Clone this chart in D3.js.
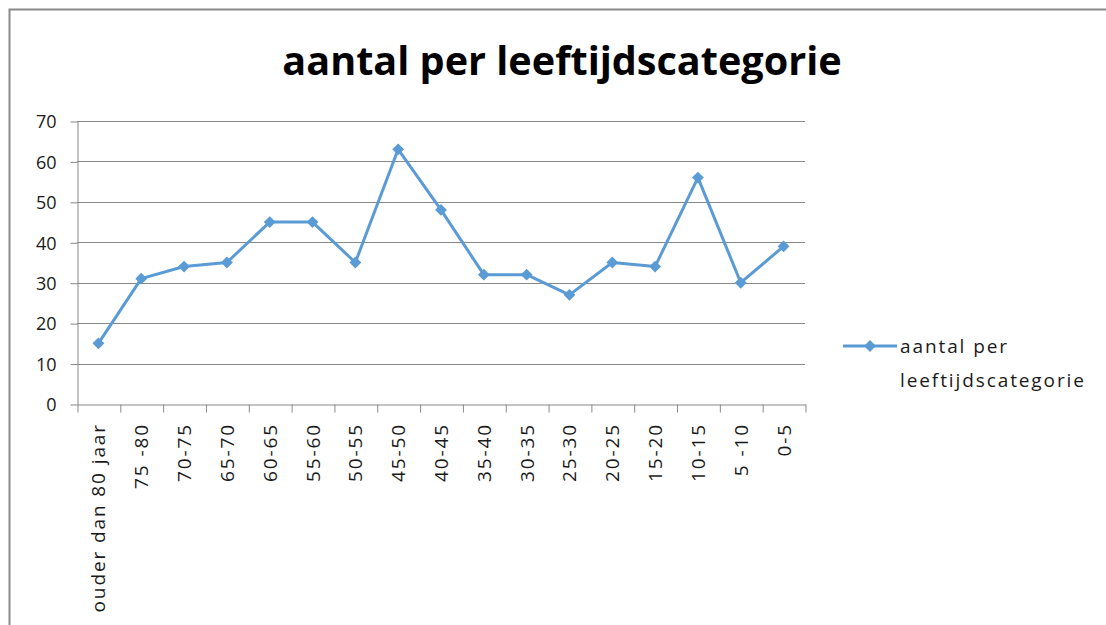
<!DOCTYPE html>
<html>
<head>
<meta charset="utf-8">
<script src="https://cdn.jsdelivr.net/npm/d3@7"></script>
<style>
  body { margin: 0; background: #fff; }
  text { font-family: "Open Sans", "Noto Sans", sans-serif; fill: #1a1a1a; }
</style>
</head>
<body>
<div id="chart"></div>
<script>
// data
var categories = ["ouder dan 80 jaar", "75 -80", "70-75", "65-70", "60-65", "55-60", "50-55",
  "45-50", "40-45", "35-40", "30-35", "25-30", "20-25", "15-20", "10-15", "5 -10", "0-5"];
var counts = [15, 31, 34, 35, 45, 45, 35, 63, 48, 32, 32, 27, 35, 34, 56, 30, 39];
var yTicks = [0, 10, 20, 30, 40, 50, 60, 70];
var seriesName = "aantal per leeftijdscategorie";
var legendLines = ["aantal per", "leeftijdscategorie"];

var W = 1106, H = 625;
var plot = { left: 77, right: 805, top: 121, bottom: 404 };
var lineColor = "#5b9bd5";
var gridColor = "#898989";

var svg = d3.select("#chart").append("svg")
    .attr("width", W)
    .attr("height", H);

// chart frame (cut off at right and bottom in the original)
svg.append("rect")
    .attr("x", 9.5).attr("y", 9.5)
    .attr("width", W + 20).attr("height", H + 20)
    .attr("fill", "#fff")
    .attr("stroke", "#8a8a8a")
    .attr("stroke-width", 2);

// title, fitted to its width in the original
var title = svg.append("text")
    .attr("x", 562).attr("y", 75)
    .attr("text-anchor", "middle")
    .style("font-weight", "bold")
    .style("font-size", "34px")
    .style("fill", "#000")
    .text(seriesName);
var tw = title.node().getComputedTextLength();
title.style("font-size", (34 * 560 / tw).toFixed(1) + "px");

var x = d3.scaleBand().domain(categories).range([plot.left, plot.right]);
var xEdge = d3.scaleLinear().domain([0, categories.length]).range([plot.left, plot.right]);
var y = d3.scaleLinear().domain([0, 70]).range([plot.bottom, plot.top]);

// gridlines
svg.append("g")
    .selectAll("line")
    .data(yTicks.filter(d => d > 0))
    .enter().append("line")
    .attr("x1", plot.left).attr("x2", plot.right)
    .attr("y1", d => Math.round(y(d)) + 0.5)
    .attr("y2", d => Math.round(y(d)) + 0.5)
    .attr("stroke", gridColor)
    .attr("stroke-width", 1);

// y axis
var yAxis = svg.append("g")
    .attr("transform", "translate(" + (plot.left + 0.5) + ",0.5)")
    .call(d3.axisLeft(y).tickValues(yTicks).tickSize(7).tickSizeOuter(0).tickPadding(14));
yAxis.select(".domain").attr("stroke", gridColor);
yAxis.selectAll(".tick line").attr("stroke", gridColor);
yAxis.selectAll(".tick text")
    .style("font-size", "18px")
    .attr("font-family", null)
    .attr("fill", null)
    .attr("dy", "0.35em");

// x axis: ticks on the category boundaries
var xAxis = svg.append("g")
    .attr("transform", "translate(0.5," + (Math.round(plot.bottom) + 0.5) + ")")
    .call(d3.axisBottom(xEdge).tickValues(d3.range(categories.length + 1))
        .tickFormat("").tickSize(8).tickSizeOuter(0));
xAxis.select(".domain").attr("stroke", gridColor);
xAxis.selectAll(".tick line").attr("stroke", gridColor);

// rotated category labels
svg.append("g")
    .selectAll("text")
    .data(categories)
    .enter().append("text")
    .attr("transform", d => "translate(" + (x(d) + x.bandwidth() / 2 + 7) + ",423) rotate(-90)")
    .attr("text-anchor", "end")
    .style("font-size", "19px")
    .style("letter-spacing", "1.9px")
    .text(d => d);

// series line
var pts = categories.map((c, i) => ({ c: c, v: counts[i] }));
var line = d3.line()
    .x(d => x(d.c) + x.bandwidth() / 2)
    .y(d => y(d.v));

svg.append("path")
    .datum(pts)
    .attr("d", line)
    .attr("fill", "none")
    .attr("stroke", lineColor)
    .attr("stroke-width", 3)
    .attr("stroke-linejoin", "round");

var diamond = d3.symbol().type(d3.symbolSquare).size(70);
svg.append("g")
    .selectAll("path")
    .data(pts)
    .enter().append("path")
    .attr("d", diamond)
    .attr("transform", d => "translate(" + (x(d.c) + x.bandwidth() / 2) + "," + y(d.v) + ") rotate(45)")
    .attr("fill", lineColor);

// legend
var lg = svg.append("g").attr("transform", "translate(843,346)");
lg.append("line")
    .attr("x1", 0).attr("x2", 54)
    .attr("y1", 0).attr("y2", 0)
    .attr("stroke", lineColor)
    .attr("stroke-width", 3);
lg.append("path")
    .attr("d", diamond)
    .attr("transform", "translate(27,0) rotate(45)")
    .attr("fill", lineColor);
lg.selectAll("text")
    .data(legendLines)
    .enter().append("text")
    .attr("x", 57)
    .attr("y", (d, i) => 7 + i * 34)
    .style("font-size", "19px")
    .style("letter-spacing", "1.9px")
    .text(d => d);
</script>
</body>
</html>
